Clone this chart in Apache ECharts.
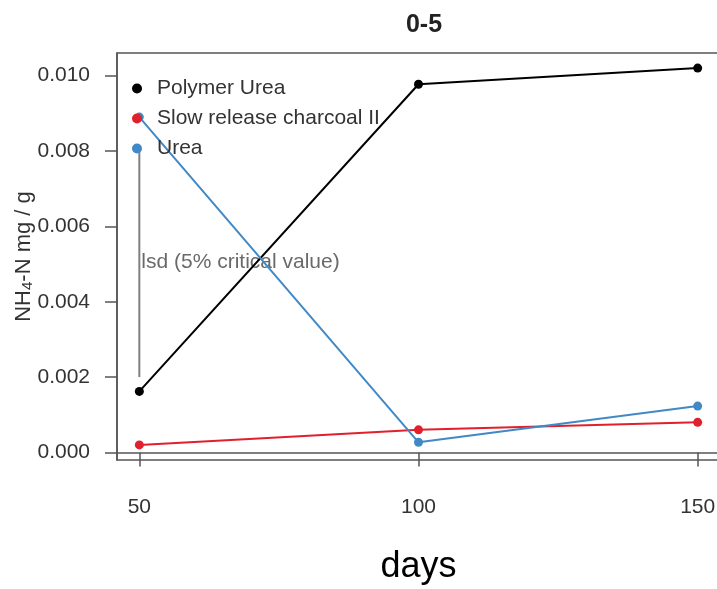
<!DOCTYPE html>
<html>
<head>
<meta charset="utf-8">
<script src="https://cdn.jsdelivr.net/npm/echarts@6/dist/echarts.min.js"></script>
<style>
  html, body { margin: 0; padding: 0; background: #fff; }
  #main { width: 717px; height: 589px; }
</style>
</head>
<body>
<div id="main"></div>
<script>
var myChart = echarts.init(document.getElementById('main'));

// data
var days = [50, 100, 150];
var polymerUrea = [0.00162, 0.00977, 0.0102];
var slowCharcoal = [0.0002, 0.0006, 0.0008];
var urea = [0.0089, 0.00027, 0.00123];
var lsdBar = [0.008, 0.002];   // top / bottom of the lsd segment at day 50
var lsdLabelY = 0.00505;
var yTicks = [0, 0.002, 0.004, 0.006, 0.008, 0.010];
var xTicks = [50, 100, 150];

var names = ['Polymer Urea', 'Slow release charcoal II', 'Urea'];
var colors = ['#000000', '#e0202c', '#4189c6'];
var values = [polymerUrea, slowCharcoal, urea];

function pairs(arr) {
  return days.map(function (d, i) { return [d, arr[i]]; });
}

var font = 'Liberation Sans, Arial, sans-serif';

var series = [];
// lsd segment first so it sits under the points
series.push({
  name: 'lsd',
  type: 'line',
  data: [[days[0], lsdBar[0]], [days[0], lsdBar[1]]],
  symbol: 'none',
  lineStyle: { color: '#808080', width: 2 },
  silent: true,
  z: 1
});
series.push({
  name: 'lsdLabel',
  type: 'scatter',
  data: [[days[0], lsdLabelY]],
  symbolSize: 0,
  label: {
    show: true,
    position: 'right',
    distance: 2,
    formatter: 'lsd (5% critical value)',
    fontFamily: font,
    fontSize: 21,
    color: '#444'
  },
  silent: true
});
for (var i = 0; i < names.length; i++) {
  series.push({
    name: names[i],
    type: 'line',
    data: pairs(values[i]),
    symbol: 'circle',
    symbolSize: 9,
    itemStyle: { color: colors[i] },
    lineStyle: { color: colors[i], width: 2 },
    z: 3
  });
}

var option = {
  backgroundColor: '#fff',
  animation: false,
  title: {
    text: '0-5',
    left: 419,
    top: 8,
    textAlign: 'center',
    textStyle: { fontFamily: font, fontSize: 25, fontWeight: 'bold', color: '#222' }
  },
  legend: {
    data: names,
    orient: 'vertical',
    left: 127,
    top: 73,
    icon: 'circle',
    itemWidth: 10,
    itemHeight: 10,
    itemGap: 9,
    textStyle: { fontFamily: font, fontSize: 21, color: '#333', lineHeight: 21, padding: [0, 0, 0, 10] }
  },
  grid: {
    left: 117,
    top: 53,
    width: 603,
    height: 407,
    outerBoundsMode: 'none',
    containLabel: false,
    show: true,
    borderColor: '#555',
    borderWidth: 1.5
  },
  xAxis: {
    type: 'value',
    min: 46,
    max: 154,
    name: 'days',
    nameLocation: 'middle',
    nameGap: 89,
    nameMoveOverlap: false,
    nameTextStyle: { fontFamily: font, fontSize: 36, color: '#000' },
    axisLine: { show: true, lineStyle: { color: '#555', width: 1.5 } },
    axisTick: { show: true, length: 14, customValues: xTicks, lineStyle: { color: '#555', width: 1.5 } },
    axisLabel: { customValues: xTicks, margin: 37, fontFamily: font, fontSize: 21, color: '#333' },
    splitLine: { show: false }
  },
  yAxis: {
    type: 'value',
    min: -0.0002,
    max: 0.0106,
    name: 'NH{sub|4}-N mg / g',
    nameLocation: 'middle',
    nameRotate: 90,
    nameGap: 82,
    nameMoveOverlap: false,
    nameTextStyle: {
      fontFamily: font, fontSize: 22, color: '#333',
      rich: { sub: { fontFamily: font, fontSize: 15, color: '#333', verticalAlign: 'bottom', padding: [8, 0, 0, 0] } }
    },
    axisLine: { show: true, lineStyle: { color: '#555', width: 1.5 } },
    axisTick: { show: true, length: 12, customValues: yTicks, lineStyle: { color: '#555', width: 1.5 } },
    axisLabel: {
      customValues: yTicks,
      margin: 27,
      fontFamily: font, fontSize: 21, color: '#333',
      formatter: function (v) { return v.toFixed(3); }
    },
    splitLine: { show: false }
  },
  series: series
};

myChart.setOption(option);
</script>
</body>
</html>
